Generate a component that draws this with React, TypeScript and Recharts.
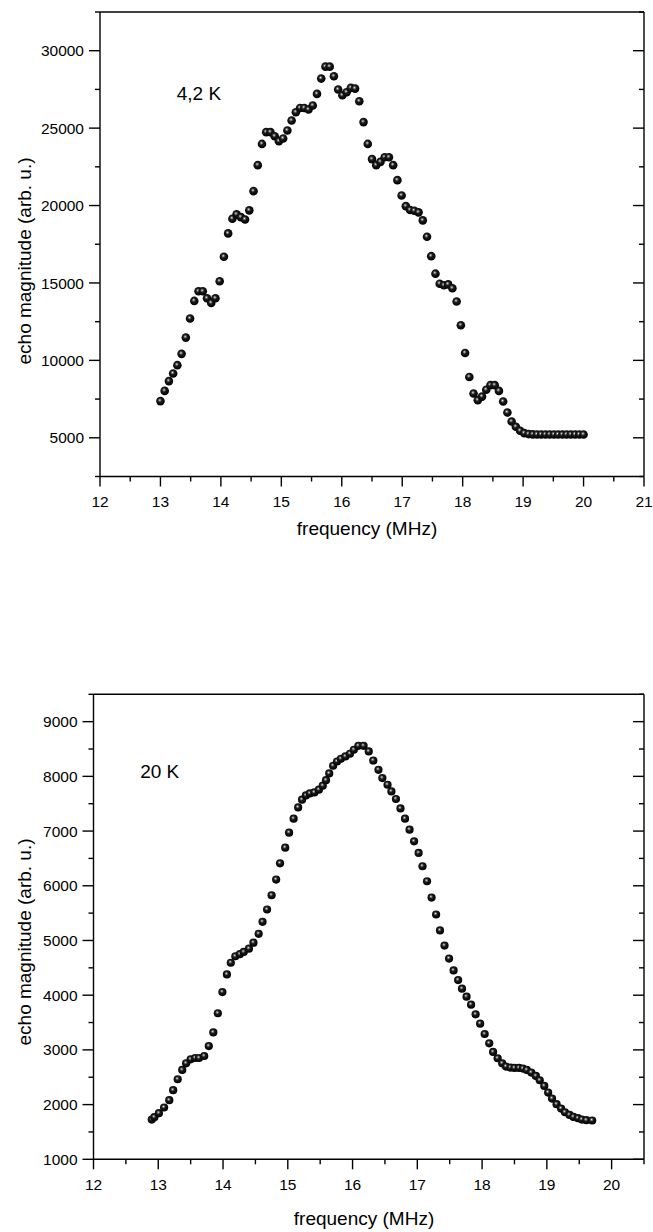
import React from "react";
import { ScatterChart, Scatter, XAxis, YAxis, ReferenceDot } from "recharts";

// 4,2 K panel
const freq4K = [
  13.0, 13.07, 13.14, 13.21, 13.28, 13.35, 13.42, 13.49, 13.56, 13.63,
  13.7, 13.77, 13.84, 13.91, 13.98, 14.05, 14.12, 14.19, 14.26, 14.33,
  14.4, 14.47, 14.54, 14.61, 14.68, 14.75, 14.82, 14.89, 14.96, 15.03,
  15.1, 15.17, 15.24, 15.31, 15.38, 15.45, 15.52, 15.59, 15.66, 15.73,
  15.8, 15.87, 15.94, 16.01, 16.08, 16.15, 16.22, 16.29, 16.36, 16.43,
  16.5, 16.57, 16.64, 16.71, 16.78, 16.85, 16.92, 16.99, 17.06, 17.13,
  17.2, 17.27, 17.34, 17.41, 17.48, 17.55, 17.62, 17.69, 17.76, 17.83,
  17.9, 17.97, 18.04, 18.11, 18.18, 18.25, 18.32, 18.39, 18.46, 18.53,
  18.6, 18.67, 18.74, 18.81, 18.88, 18.95, 19.02, 19.09, 19.16, 19.23,
  19.3, 19.37, 19.44, 19.51, 19.58, 19.65, 19.72, 19.79, 19.86, 19.93,
  20.0,
];
const echo4K = [
  7370, 8030, 8660, 9150, 9690, 10420, 11470, 12700, 13840, 14460,
  14460, 14010, 13710, 14010, 15110, 16690, 18200, 19150, 19430, 19250,
  19100, 19690, 20930, 22610, 23980, 24740, 24740, 24480, 24160, 24330,
  24850, 25490, 26030, 26300, 26300, 26200, 26460, 27210, 28200, 28970,
  28970, 28350, 27490, 27120, 27320, 27600, 27550, 26740, 25390, 23980,
  23000, 22610, 22820, 23120, 23120, 22610, 21640, 20650, 19960, 19710,
  19660, 19560, 19040, 17980, 16730, 15600, 14950, 14850, 14910, 14660,
  13800, 12270, 10480, 8930, 7860, 7430, 7660, 8100, 8400, 8400,
  8030, 7340, 6630, 6050, 5710, 5450, 5300, 5240, 5220, 5210,
  5210, 5210, 5210, 5210, 5210, 5210, 5210, 5210, 5210, 5210,
  5210,
];

// 20 K panel
const freq20K = [
  12.9, 12.94, 13.01, 13.09, 13.17, 13.23, 13.3, 13.37, 13.43, 13.5,
  13.57, 13.63, 13.71, 13.78, 13.85, 13.92, 13.99, 14.06, 14.12, 14.19,
  14.26, 14.32, 14.4, 14.47, 14.55, 14.61, 14.68, 14.75, 14.82, 14.88,
  14.96, 15.02, 15.09, 15.16, 15.22, 15.28, 15.34, 15.41, 15.48, 15.54,
  15.59, 15.64, 15.7, 15.76, 15.82, 15.89, 15.96, 16.02, 16.09, 16.17,
  16.25, 16.32, 16.4, 16.46, 16.54, 16.6, 16.67, 16.74, 16.81, 16.88,
  16.95, 17.02, 17.08, 17.15, 17.22, 17.29, 17.35, 17.42, 17.49, 17.56,
  17.63, 17.69, 17.76, 17.83, 17.9, 17.97, 18.04, 18.11, 18.17, 18.24,
  18.31, 18.37, 18.44, 18.5, 18.57, 18.63, 18.69, 18.76, 18.83, 18.89,
  18.96, 19.02, 19.08, 19.15, 19.22, 19.28, 19.35, 19.41, 19.48, 19.54,
  19.61, 19.7,
];
const echo20K = [
  1727, 1770, 1843, 1947, 2080, 2263, 2463, 2633, 2755, 2828,
  2852, 2852, 2888, 3070, 3320, 3670, 4057, 4380, 4593, 4712,
  4750, 4790, 4850, 4960, 5122, 5341, 5566, 5827, 6113, 6411,
  6697, 6971, 7227, 7433, 7573, 7652, 7688, 7706, 7756, 7829,
  7930, 8053, 8194, 8272, 8321, 8364, 8413, 8486, 8559, 8559,
  8455, 8290, 8120, 7969, 7847, 7725, 7586, 7414, 7227, 7026,
  6812, 6600, 6357, 6083, 5785, 5475, 5183, 4906, 4670, 4453,
  4276, 4119, 3972, 3827, 3650, 3480, 3290, 3120, 2962, 2847,
  2755, 2695, 2676, 2670, 2670, 2658, 2633, 2585, 2524, 2445,
  2341, 2220, 2110, 2007, 1928, 1860, 1811, 1775, 1751, 1727,
  1715, 1709,
];

const xTicks4K = [12, 12.5, 13, 13.5, 14, 14.5, 15, 15.5, 16, 16.5, 17, 17.5, 18, 18.5, 19, 19.5, 20, 20.5, 21];
const yTicks4K = [2500, 5000, 7500, 10000, 12500, 15000, 17500, 20000, 22500, 25000, 27500, 30000, 32500];
const xTicks20K = [12, 12.5, 13, 13.5, 14, 14.5, 15, 15.5, 16, 16.5, 17, 17.5, 18, 18.5, 19, 19.5, 20, 20.5];
const yTicks20K = [1000, 1500, 2000, 2500, 3000, 3500, 4000, 4500, 5000, 5500, 6000, 6500, 7000, 7500, 8000, 8500, 9000, 9500];

const data4K = freq4K.map((f, i) => ({ f, v: echo4K[i] }));
const data20K = freq20K.map((f, i) => ({ f, v: echo20K[i] }));

const FONT = "'Liberation Sans', Arial, Helvetica, sans-serif";
const TICK_FONT = 15.5;
const LABEL_FONT = 19;

type Side = "bottom" | "top" | "left" | "right";

// tick lines drawn by hand so minor ticks can be shorter than major ones
function makeTick(side: Side, isMajor: (v: number) => boolean, showLabel: boolean) {
  return (props: any) => {
    const { x, y, payload } = props;
    const v = payload.value;
    const major = isMajor(v);
    const len = major ? 10 : 5;
    let line;
    let label = null;
    if (side === "bottom") {
      line = <line x1={x} y1={y} x2={x} y2={y + len} stroke="#000" strokeWidth={1.4} />;
      if (showLabel && major)
        label = (
          <text x={x} y={y + 25} dy="0.36em" textAnchor="middle" fontSize={TICK_FONT} fontFamily={FONT} fill="#000">
            {v}
          </text>
        );
    } else if (side === "top") {
      line = <line x1={x} y1={y} x2={x} y2={y + len} stroke="#000" strokeWidth={1.4} />;
    } else if (side === "left") {
      const l = major ? 11 : 5;
      line = <line x1={x} y1={y} x2={x - l} y2={y} stroke="#000" strokeWidth={1.4} />;
      if (showLabel && major)
        label = (
          <text x={x - 16} y={y} dy="0.36em" textAnchor="end" fontSize={TICK_FONT} fontFamily={FONT} fill="#000">
            {v}
          </text>
        );
    } else {
      const l = major ? 11 : 5;
      line = <line x1={x} y1={y} x2={x - l} y2={y} stroke="#000" strokeWidth={1.4} />;
    }
    return (
      <g>
        {line}
        {label}
      </g>
    );
  };
}

const intMajor = (v: number) => Number.isInteger(v);

const ball = (id: string, r: number) => (p: any) => (
  <circle cx={p.cx} cy={p.cy} r={r} fill={`url(#${id})`} />
);

function XTitle({ x, y }: { x: number; y: number }) {
  return (
    <text x={x} y={y} textAnchor="middle" fontSize={LABEL_FONT} fontFamily={FONT} fill="#000">
      frequency (MHz)
    </text>
  );
}

function YTitle({ x, y }: { x: number; y: number }) {
  return (
    <text
      x={x}
      y={y}
      transform={`rotate(-90, ${x}, ${y})`}
      textAnchor="middle"
      fontSize={LABEL_FONT}
      fontFamily={FONT}
      fill="#000"
    >
      echo magnitude (arb. u.)
    </text>
  );
}

const axisLine = { stroke: "#000", strokeWidth: 1.4 };

export default function App() {
  return (
    <div style={{ position: "absolute", left: 0, top: 0, width: 653, height: 1232, background: "#fff" }}>
      <svg width={0} height={0} style={{ position: "absolute" }}>
        <defs>
          <radialGradient id="ball4" cx="0.45" cy="0.42" r="0.55" fx="0.42" fy="0.38">
            <stop offset="0" stopColor="#eeeeee" />
            <stop offset="0.16" stopColor="#8c8c8c" />
            <stop offset="0.42" stopColor="#1c1c1c" />
            <stop offset="1" stopColor="#000" />
          </radialGradient>
          <radialGradient id="ball20" cx="0.45" cy="0.42" r="0.55" fx="0.42" fy="0.38">
            <stop offset="0" stopColor="#eeeeee" />
            <stop offset="0.16" stopColor="#8c8c8c" />
            <stop offset="0.42" stopColor="#1c1c1c" />
            <stop offset="1" stopColor="#000" />
          </radialGradient>
        </defs>
      </svg>

      <div style={{ position: "absolute", left: 0, top: 0 }}>
        <ScatterChart width={653} height={560} margin={{ top: 0, right: 0, bottom: 0, left: 0 }}>
          <XAxis
            xAxisId="b"
            type="number"
            dataKey="f"
            domain={[12, 21]}
            ticks={xTicks4K}
            interval={0}
            height={83.5}
            tickSize={0}
            tickMargin={0}
            axisLine={axisLine}
            tickLine={false}
            tick={makeTick("bottom", intMajor, true)}
            allowDataOverflow
            label={() => <XTitle x={367} y={535} />}
          />
          <XAxis
            xAxisId="t"
            orientation="top"
            type="number"
            domain={[12, 21]}
            ticks={xTicks4K}
            interval={0}
            height={12}
            tickSize={0}
            tickMargin={0}
            axisLine={axisLine}
            tickLine={false}
            tick={makeTick("top", intMajor, false)}
            allowDataOverflow
          />
          <YAxis
            yAxisId="l"
            type="number"
            dataKey="v"
            domain={[2500, 32500]}
            ticks={yTicks4K}
            interval={0}
            width={100}
            tickSize={0}
            tickMargin={0}
            axisLine={axisLine}
            tickLine={false}
            tick={makeTick("left", (v) => v % 5000 === 0, true)}
            allowDataOverflow
            label={() => <YTitle x={31} y={261} />}
          />
          <YAxis
            yAxisId="r"
            orientation="right"
            type="number"
            domain={[2500, 32500]}
            ticks={yTicks4K}
            interval={0}
            width={9}
            tickSize={0}
            tickMargin={0}
            axisLine={axisLine}
            tickLine={false}
            tick={makeTick("right", (v) => v % 5000 === 0, false)}
            allowDataOverflow
          />
          <ReferenceDot
            xAxisId="b"
            yAxisId="l"
            x={13.27}
            y={27230}
            r={0}
            fill="none"
            stroke="none"
            label={{ value: "4,2 K", position: "right", offset: 0, fontSize: LABEL_FONT, fontFamily: FONT, fill: "#000" }}
          />
          <Scatter
            xAxisId="b"
            yAxisId="l"
            data={data4K}
            isAnimationActive={false}
            shape={ball("ball4", 4.3)}
          />
        </ScatterChart>
      </div>

      <div style={{ position: "absolute", left: 0, top: 680 }}>
        <ScatterChart width={653} height={552} margin={{ top: 0, right: 0, bottom: 0, left: 0 }}>
          <XAxis
            xAxisId="b"
            type="number"
            dataKey="f"
            domain={[12, 20.5]}
            ticks={xTicks20K}
            interval={0}
            height={72.7}
            tickSize={0}
            tickMargin={0}
            axisLine={axisLine}
            tickLine={false}
            tick={makeTick("bottom", intMajor, true)}
            allowDataOverflow
            label={() => <XTitle x={364} y={545} />}
          />
          <XAxis
            xAxisId="t"
            orientation="top"
            type="number"
            domain={[12, 20.5]}
            ticks={xTicks20K}
            interval={0}
            height={14.3}
            tickSize={0}
            tickMargin={0}
            axisLine={axisLine}
            tickLine={false}
            tick={makeTick("top", intMajor, false)}
            allowDataOverflow
          />
          <YAxis
            yAxisId="l"
            type="number"
            dataKey="v"
            domain={[1000, 9500]}
            ticks={yTicks20K}
            interval={0}
            width={93.5}
            tickSize={0}
            tickMargin={0}
            axisLine={axisLine}
            tickLine={false}
            tick={makeTick("left", (v) => v % 1000 === 0, true)}
            allowDataOverflow
            label={() => <YTitle x={31} y={262} />}
          />
          <YAxis
            yAxisId="r"
            orientation="right"
            type="number"
            domain={[1000, 9500]}
            ticks={yTicks20K}
            interval={0}
            width={9}
            tickSize={0}
            tickMargin={0}
            axisLine={axisLine}
            tickLine={false}
            tick={makeTick("right", (v) => v % 1000 === 0, false)}
            allowDataOverflow
          />
          <ReferenceDot
            xAxisId="b"
            yAxisId="l"
            x={12.72}
            y={8100}
            r={0}
            fill="none"
            stroke="none"
            label={{ value: "20 K", position: "right", offset: 0, fontSize: LABEL_FONT, fontFamily: FONT, fill: "#000" }}
          />
          <Scatter
            xAxisId="b"
            yAxisId="l"
            data={data20K}
            isAnimationActive={false}
            shape={ball("ball20", 4.1)}
          />
        </ScatterChart>
      </div>
    </div>
  );
}
